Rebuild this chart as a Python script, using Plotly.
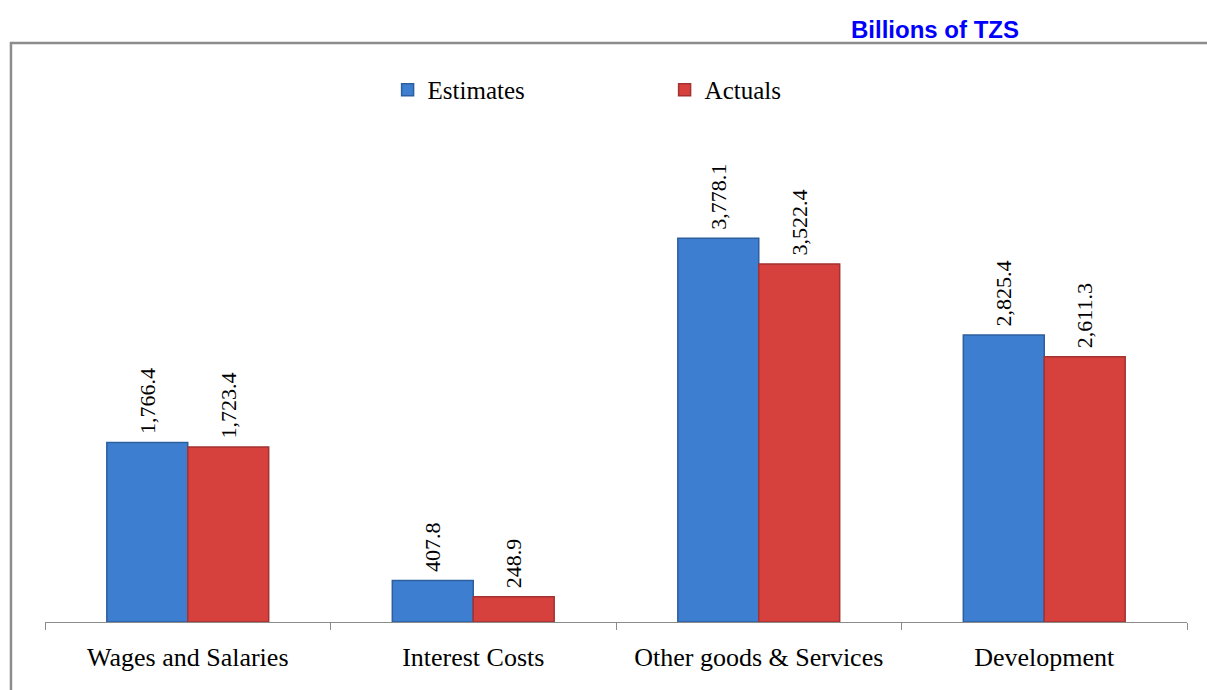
import plotly.graph_objects as go

# Expenditure by category, billions of TZS
categories = ["Wages and Salaries", "Interest Costs", "Other goods & Services", "Development"]
estimates = [1766.4, 407.8, 3778.1, 2825.4]
actuals = [1723.4, 248.9, 3522.4, 2611.3]

SERIF = "Liberation Serif, Times New Roman, serif"

fig = go.Figure()
fig.add_trace(go.Bar(
    name="Estimates", x=categories, y=estimates,
    marker=dict(color="#3E7ED0", line=dict(color="#2D5F9F", width=1.5)),
    texttemplate="\u00a0%{y:,.1f}", textposition="outside", textangle=-90,
    textfont=dict(family=SERIF, size=22, color="#000000"),
    cliponaxis=False,
))
fig.add_trace(go.Bar(
    name="Actuals", x=categories, y=actuals,
    marker=dict(color="#D6413E", line=dict(color="#A33230", width=1.5)),
    texttemplate="\u00a0%{y:,.1f}", textposition="outside", textangle=-90,
    textfont=dict(family=SERIF, size=22, color="#000000"),
    cliponaxis=False,
))

# outer frame around the chart area
fig.add_shape(type="rect", xref="paper", yref="paper",
              x0=-0.0298, x1=1.08, y0=-0.25, y1=1.1398,
              line=dict(color="#8C8C8C", width=2.5), layer="below")

fig.add_annotation(text="<b>Billions of TZS</b>", xref="paper", yref="paper",
                   x=0.779, y=1.167, xanchor="center", yanchor="middle", showarrow=False,
                   font=dict(family="Liberation Sans Narrow, Arial Narrow, Liberation Sans, sans-serif",
                             size=24, color="#0000FF"))

fig.update_layout(
    width=1207, height=690,
    margin=dict(l=45, r=20, t=114, b=68),
    paper_bgcolor="white", plot_bgcolor="white",
    barmode="group", bargap=0.433, bargroupgap=0,
    showlegend=True,
    legend=dict(orientation="h", x=0.300, y=1.002, xanchor="left", yanchor="bottom",
                entrywidth=232, entrywidthmode="pixels",
                font=dict(family=SERIF, size=25, color="#000000"),
                bgcolor="rgba(0,0,0,0)"),
    xaxis=dict(showline=True, linecolor="#8C8C8C", linewidth=1,
               ticks="outside", tickson="boundaries", ticklen=7, tickcolor="#8C8C8C",
               ticklabelstandoff=12,
               tickfont=dict(family=SERIF, size=26, color="#000000"),
               showgrid=False, zeroline=False),
    yaxis=dict(range=[0, 5000], visible=False, showgrid=False, zeroline=False),
)

fig.write_html("out.html")
